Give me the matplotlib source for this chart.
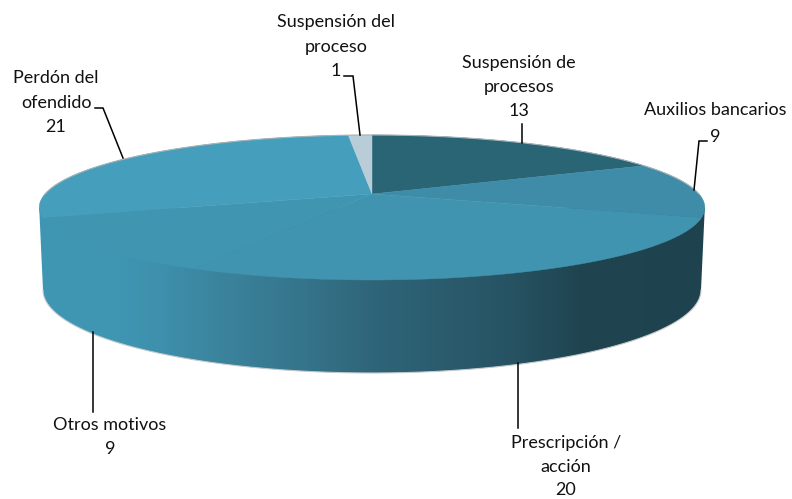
#!/usr/bin/env python3
"""
3D looking pie chart of case closing reasons
"""

import numpy as np
import matplotlib
matplotlib.use("Agg")
import matplotlib.pyplot as plt
from matplotlib.colors import LinearSegmentedColormap
from matplotlib.patches import Polygon

categories = ["Suspensión de\nprocesos", "Auxilios bancarios", "Prescripción /\nacción",
              "Otros motivos", "Perdón del\nofendido", "Suspensión del\nproceso"]
values = [13, 9, 20, 9, 21, 1]
top_colors = ["#2a6576", "#3e8ca7", "#4094af", "#4095b1", "#459fbc", "#b8cdd8"]

label_pos = [(519, 63, 24), (715, 110, 27), (566, 443, 23.5), (110, 425, 23.5), (56, 78, 24.5), (336, 22, 24.5)]
leaders = [
    ([522, 522], [143, 124]),
    ([694, 699, 707], [190, 141, 141]),
    ([518, 518], [363, 428]),
    ([93, 93], [332, 412]),
    ([123, 103, 95], [158, 108, 108]),
    ([360, 353, 344], [135, 76, 76]),
]

# where the top disc sits, in pixels
cx, cy = 372, 194
rx, ry, persp = 327, 70, 0.186
# floor ellipse of the side wall
bottom_cy, bottom_rx, bottom_ry = 290, 329, 83
side_stops = [(0.0, "#4096b2"), (0.12, "#3f96b2"), (0.18, "#3e90ac"), (0.25, "#3c86a0"), (0.40, "#35748a"),
              (0.50, "#2f6579"), (0.70, "#275464"), (0.82, "#1f4450"), (1.0, "#1f424f")]


def project(theta):
    """Clockwise angle from 12 o'clock to screen pixels, with a bit of perspective"""
    x, y = np.sin(theta), np.cos(theta)
    d = 1 + persp * y
    return cx + rx * x / d, cy - ry * y / d


fig = plt.figure(figsize=(7.92, 4.99), dpi=100)
ax = fig.add_axes([0, 0, 1, 1])
ax.set_xlim(0, 792)
ax.set_ylim(499, 0)
ax.axis("off")

# side wall: gradient clipped to the outline
t = np.linspace(0, 2 * np.pi, 400)
rim_x, rim_y = project(t)
left, right = rim_x.argmin(), rim_x.argmax()
t_low = np.linspace(np.pi, 0, 200)
floor_x = cx + bottom_rx * np.cos(t_low)
floor_y = bottom_cy + bottom_ry * np.sin(t_low)
outline = np.column_stack([
    np.r_[rim_x[left], floor_x, rim_x[right]],
    np.r_[rim_y[left], floor_y, rim_y[right]],
])
cmap = LinearSegmentedColormap.from_list("side", side_stops)
x0, x1 = rim_x.min(), rim_x.max()
im = ax.imshow(np.linspace(0, 1, 300)[None, :], extent=(x0, x1, 400, 190), cmap=cmap, aspect="auto", zorder=1)
clip = Polygon(outline, closed=True, transform=ax.transData)
im.set_clip_path(clip)
ax.set_xlim(0, 792)
ax.set_ylim(499, 0)
ax.plot(floor_x, floor_y, color="#c4cacd", lw=0.8, zorder=2)

# top slices
edges = np.cumsum([0] + values) / sum(values) * 2 * np.pi
for i, color in enumerate(top_colors):
    th = np.linspace(edges[i], edges[i + 1], 120)
    px, py = project(th)
    ax.fill(np.r_[cx, px], np.r_[cy, py], color=color, lw=0.3, zorder=3)

# thin grey rim on the back of the disc
back = np.linspace(-np.pi / 2, np.pi / 2, 200)
bx, by = project(back)
ax.plot(bx, by, color="#a9b3b7", lw=0.8, zorder=4)

for (lx, ly) in leaders:
    ax.plot(lx, ly, color="black", lw=1.1, zorder=5, solid_joinstyle="miter")

plt.rcParams["font.family"] = ["Lato", "DejaVu Sans"]
for name, val, (tx, ty, step) in zip(categories, values, label_pos):
    lines = name.split("\n") + [str(val)]
    for j, line in enumerate(lines):
        ax.text(tx, ty + j * step, line, ha="center", va="center", fontsize=13, color="#111111")

plt.savefig("out.png", dpi=100)
